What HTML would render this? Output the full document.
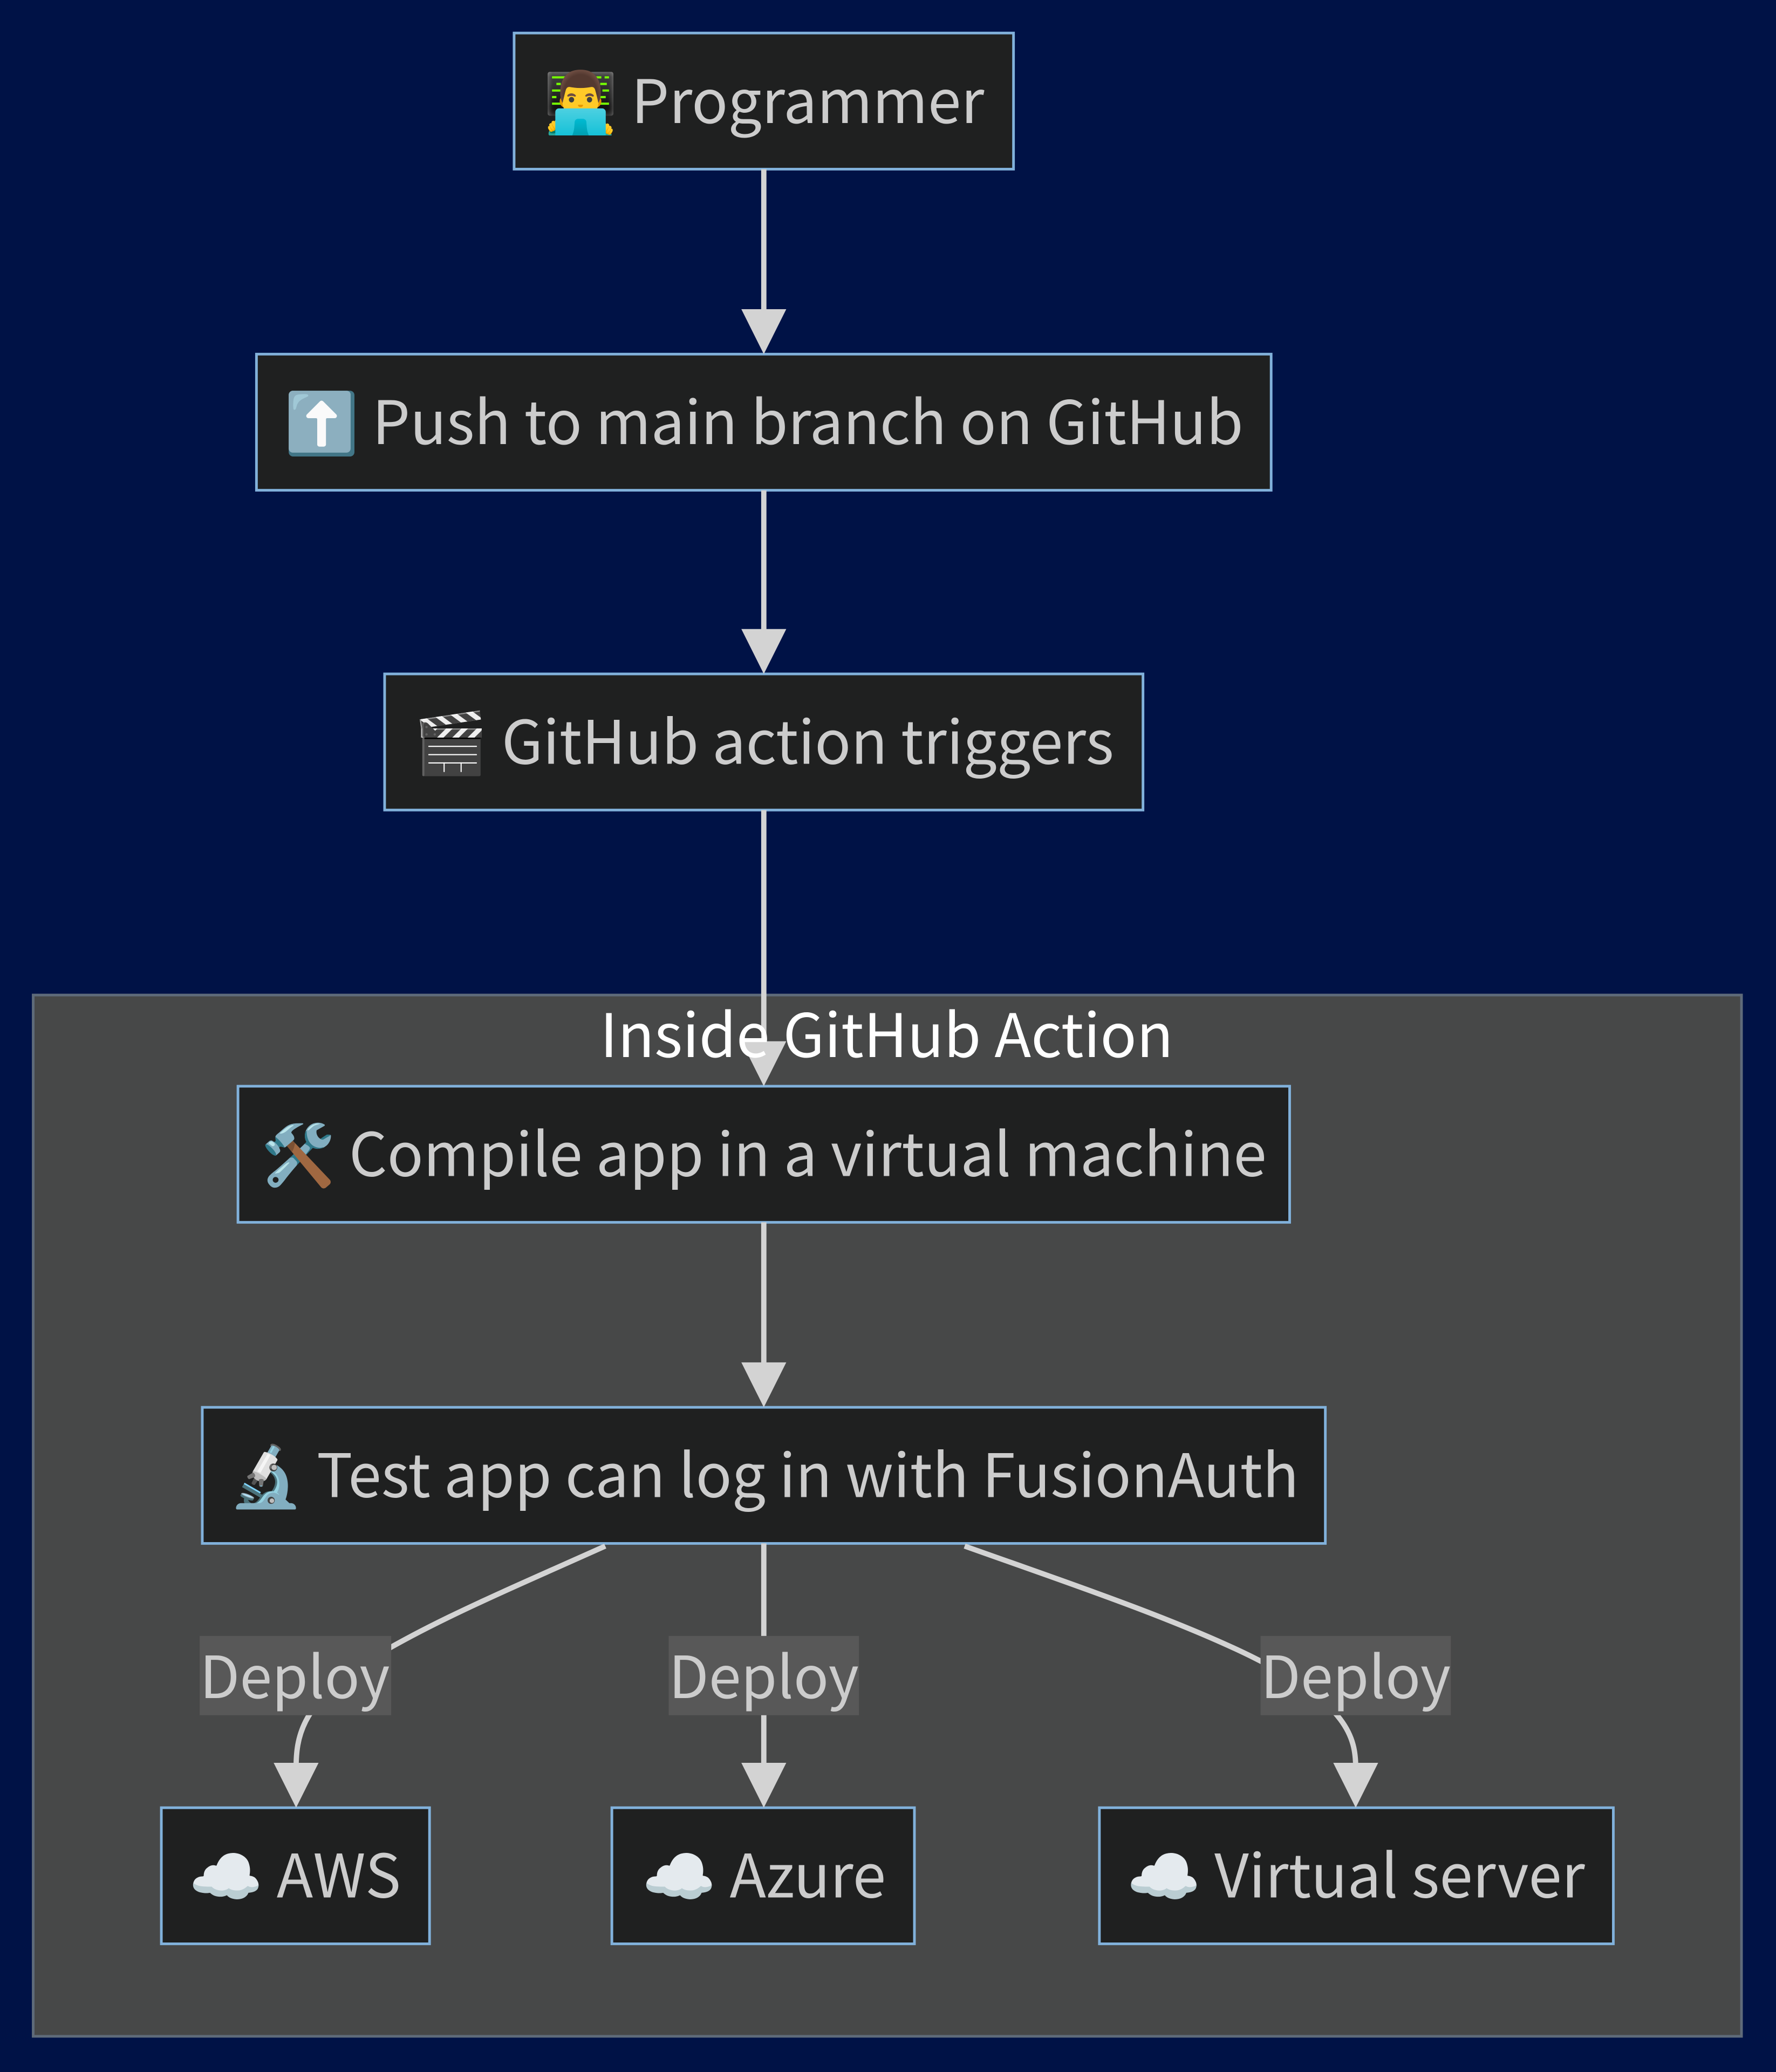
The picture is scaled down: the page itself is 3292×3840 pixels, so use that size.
<!DOCTYPE html>
<html><head><meta charset="utf-8"><style>
html,body{margin:0;padding:0;background:#001246;}
svg{display:block;}
text{font-family:"Noto Sans CJK JP","Liberation Sans","DejaVu Sans",sans-serif;}
</style></head><body>
<svg width="3292" height="3840" viewBox="0 0 1344 1568" xmlns="http://www.w3.org/2000/svg">
<rect x="0" y="0" width="1344" height="1568" fill="#001246"/>
<rect x="25" y="753" width="1293" height="788" fill="#474848" stroke="#5f6b7a" stroke-width="2"/>
<g fill="#1f2020" stroke="#81b1db" stroke-width="2">
<rect x="389" y="25" width="378" height="103"/>
<rect x="194" y="268" width="768" height="103"/>
<rect x="291" y="510" width="574" height="103"/>
<rect x="180" y="822" width="796" height="103"/>
<rect x="153" y="1065" width="850" height="103"/>
<rect x="122" y="1368" width="203" height="103"/>
<rect x="463" y="1368" width="229" height="103"/>
<rect x="832" y="1368" width="389" height="103"/>
</g>
<g stroke="#d3d3d3" stroke-width="4" fill="none">
<line x1="578" y1="128" x2="578" y2="238"/>
<line x1="578" y1="371" x2="578" y2="480"/>
<line x1="578" y1="613" x2="578" y2="792"/>
<line x1="578" y1="925" x2="578" y2="1035"/>
<line x1="578" y1="1168" x2="578" y2="1338"/>
<path d="M458,1170 C380,1205 320,1230 270,1262 C228,1292 224,1315 224,1338"/>
<path d="M730,1170 C800,1195 890,1225 950,1255 C1020,1290 1026,1315 1026,1338"/>
</g>
<g fill="#d3d3d3">
<polygon points="561,234 595,234 578,268"/>
<polygon points="561,476 595,476 578,510"/>
<polygon points="561,788 595,788 578,822"/>
<polygon points="561,1031 595,1031 578,1065"/>
<polygon points="561,1334 595,1334 578,1368"/>
<polygon points="207,1334 241,1334 224,1368"/>
<polygon points="1009,1334 1043,1334 1026,1368"/>
</g>
<text x="671" y="800" font-size="45.5" fill="#ffffff" text-anchor="middle">Inside GitHub Action</text>
<g fill="#585858">
<rect x="151" y="1238" width="145" height="60"/>
<rect x="506" y="1238" width="144" height="60"/>
<rect x="954" y="1238" width="144" height="60"/>
</g>
<g font-size="44" fill="#cccccc" text-anchor="middle">
<text x="223" y="1285">Deploy</text>
<text x="578" y="1285">Deploy</text>
<text x="1026" y="1285">Deploy</text>
</g>
<g font-size="45.3" fill="#cccccc" text-anchor="middle">
<text x="578" y="93">👨‍💻 Programmer</text>
<text x="578" y="336">⬆️ Push to main branch on GitHub</text>
<text x="578" y="578">🎬 GitHub action triggers</text>
<text x="578" y="890">🛠️ Compile app in a virtual machine</text>
<text x="578" y="1133">🔬 Test app can log in with FusionAuth</text>
<text x="223" y="1436">☁️ AWS</text>
<text x="578" y="1436">☁️ Azure</text>
<text x="1026" y="1436">☁️ Virtual server</text>
</g>
</svg>
</body></html>
